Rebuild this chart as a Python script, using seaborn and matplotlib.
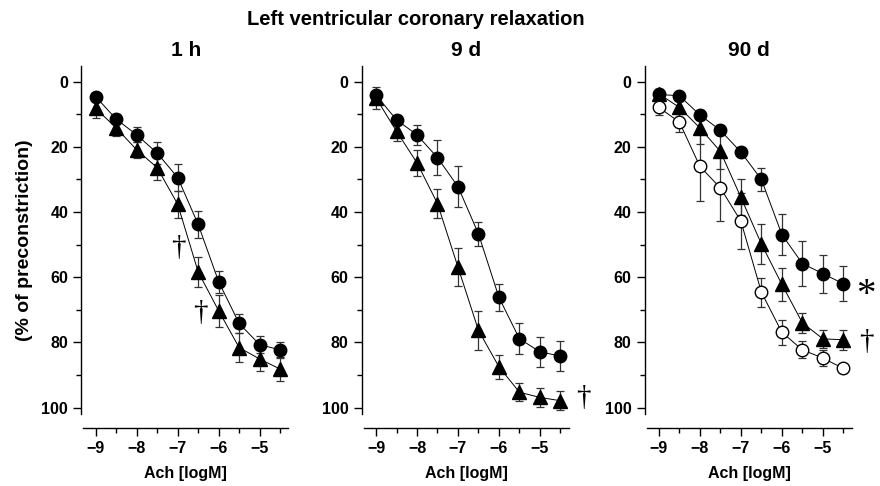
import numpy as np
import pandas as pd
import seaborn as sns
import matplotlib.pyplot as plt

# Concentrações de acetilcolina (log M)
ach = [-9, -8.5, -8, -7.5, -7, -6.5, -6, -5.5, -5, -4.5]

# 1 h
h1_circ = [4.6, 11.5, 16.3, 21.9, 29.4, 43.8, 61.4, 74.2, 80.7, 82.3]
h1_circ_err = [1.2, 1.5, 2.3, 3.4, 4.2, 4.2, 3.3, 2.8, 2.6, 2.5]
h1_tri = [8.2, 14.2, 20.9, 26.4, 37.6, 58.4, 70.3, 81.6, 85.1, 88.2]
h1_tri_err = [3.0, 2.6, 2.5, 3.8, 4.2, 4.5, 4.9, 4.4, 3.8, 3.8]

# 9 d
d9_circ = [4.1, 11.7, 16.3, 23.3, 32.2, 46.7, 66.2, 78.9, 82.9, 84.2]
d9_circ_err = [1.0, 1.5, 3.1, 5.4, 6.3, 3.6, 4.1, 4.8, 4.6, 4.5]
d9_tri = [5.0, 15.2, 24.9, 37.4, 56.9, 76.3, 87.5, 95.3, 96.9, 97.9]
d9_tri_err = [3.4, 2.9, 4.0, 4.5, 5.8, 6.0, 3.6, 2.8, 3.0, 3.0]

# 90 d
d90_circ = [3.9, 4.3, 10.2, 14.9, 21.6, 30.0, 46.9, 55.8, 58.9, 62.0]
d90_circ_err = [1.0, 1.0, 1.5, 1.5, 1.5, 3.6, 6.4, 6.8, 5.8, 5.3]
d90_tri = [3.7, 7.9, 14.2, 21.4, 35.5, 49.8, 62.2, 74.0, 78.9, 79.2]
d90_tri_err = [1.5, 2.0, 5.0, 5.5, 5.5, 6.0, 5.0, 3.0, 2.7, 3.0]
d90_open = [7.9, 12.4, 26.0, 32.6, 42.8, 64.6, 76.9, 82.3, 84.8, 88.0]
d90_open_err = [2.4, 3.0, 10.5, 10.0, 8.5, 4.4, 3.8, 2.6, 2.5, 1.5]

painel_titulos = ['1 h', '9 d', '90 d']

sns.set_style('ticks')
plt.rcParams['font.family'] = ['Liberation Sans', 'DejaVu Sans']
plt.rcParams['font.weight'] = 'bold'
plt.rcParams['axes.linewidth'] = 1.0
for chave in ['text.color', 'axes.labelcolor', 'xtick.color', 'ytick.color', 'axes.edgecolor']:
    plt.rcParams[chave] = 'black'


def desenhar_serie(ax, x, y, err, marcador, preenchido=True, tam=9):
    face = 'black' if preenchido else 'white'
    ax.errorbar(x, y, yerr=err, fmt='none', ecolor='#333333', elinewidth=0.9,
                capsize=3, capthick=0.9, zorder=2)
    sns.lineplot(x=x, y=y, ax=ax, color='black', linewidth=0.7, marker=marcador,
                 markersize=tam, markerfacecolor=face, markeredgecolor='black',
                 markeredgewidth=1.0, zorder=3)


def simbolo(ax, x, y, s, tam=21):
    ax.text(x, y, s, family='Liberation Serif', fontsize=tam, fontweight='normal',
            ha='center', va='center')


fig = plt.figure(figsize=(8.8, 4.86), dpi=100)
lefts = [0.0925, 0.411, 0.7325]
axs = [fig.add_axes([l, 0.148, 0.2375, 0.716]) for l in lefts]

# 1 h
desenhar_serie(axs[0], ach, h1_circ, h1_circ_err, 'o')
desenhar_serie(axs[0], ach, h1_tri, h1_tri_err, '^', tam=10)
simbolo(axs[0], -6.98, 51, '†')
simbolo(axs[0], -6.45, 71, '†')

# 9 d
desenhar_serie(axs[1], ach, d9_circ, d9_circ_err, 'o')
desenhar_serie(axs[1], ach, d9_tri, d9_tri_err, '^', tam=10)
simbolo(axs[1], -3.95, 97, '†')

# 90 d
desenhar_serie(axs[2], ach, d90_circ, d90_circ_err, 'o')
desenhar_serie(axs[2], ach, d90_tri, d90_tri_err, '^', tam=10)
desenhar_serie(axs[2], ach, d90_open, d90_open_err, 'o', preenchido=False)
simbolo(axs[2], -3.95, 65.5, '*', tam=28)
simbolo(axs[2], -3.95, 80, '†')

for i, ax in enumerate(axs):
    ax.set_xlim(-9.35, -4.25)
    ax.set_ylim(102, -4.8)
    ax.set_xticks([-9, -8, -7, -6, -5])
    ax.set_xticks([-8.5, -7.5, -6.5, -5.5, -4.5], minor=True)
    ax.set_xticklabels(['\u22129', '\u22128', '\u22127', '\u22126', '\u22125'])
    ax.set_yticks([0, 20, 40, 60, 80, 100])
    ax.set_yticks([10, 30, 50, 70, 90], minor=True)
    ax.tick_params(axis='both', which='major', length=6, width=1.0, labelsize=11.5)
    ax.tick_params(axis='both', which='minor', length=3.5, width=1.0)
    ax.spines['top'].set_visible(False)
    ax.spines['right'].set_visible(False)
    ax.spines['bottom'].set_position(('outward', 10))
    ax.spines['bottom'].set_bounds(-9.3, -4.3)
    ax.spines['left'].set_bounds(102, -4.8)
    for lab in ax.get_xticklabels() + ax.get_yticklabels():
        lab.set_fontweight('bold')
    ax.set_xlabel('Ach [logM]', fontsize=11.5, fontweight='bold', labelpad=7)
    ax.set_ylabel('')
    ax.set_title(painel_titulos[i], fontsize=15, fontweight='bold', pad=7)

axs[0].set_ylabel('(% of preconstriction)', fontsize=14, fontweight='bold', labelpad=6)

fig.text(0.473, 0.96, 'Left ventricular coronary relaxation', ha='center', va='center',
         fontsize=14.5, fontweight='bold')

fig.savefig('out.png', dpi=100)
